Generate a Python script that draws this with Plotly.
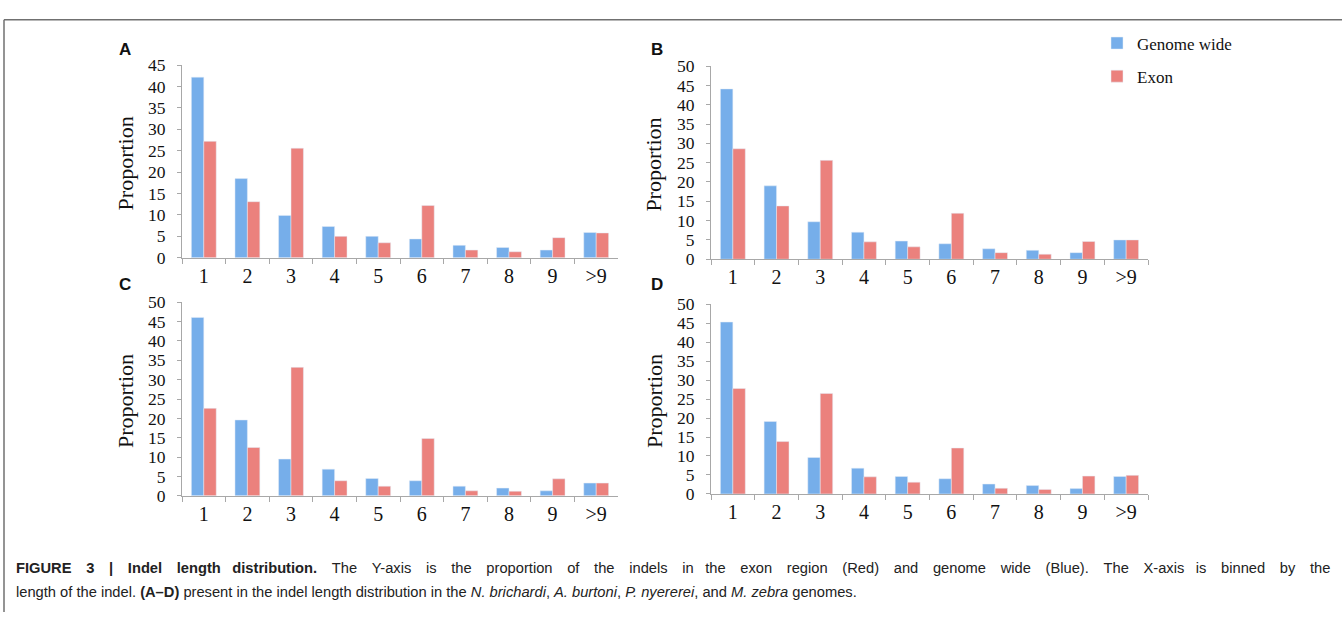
import plotly.graph_objects as go

categories = ["1", "2", "3", "4", "5", "6", "7", "8", "9", ">9"]

a_genome = [42.2, 18.5, 9.9, 7.3, 5.0, 4.4, 2.9, 2.4, 1.8, 5.9]
a_exon = [27.2, 13.1, 25.6, 5.0, 3.5, 12.2, 1.8, 1.4, 4.7, 5.8]
b_genome = [44.1, 19.0, 9.7, 7.0, 4.7, 4.0, 2.7, 2.3, 1.7, 5.0]
b_exon = [28.6, 13.8, 25.6, 4.5, 3.2, 11.9, 1.7, 1.3, 4.6, 5.0]
c_genome = [46.1, 19.6, 9.5, 6.9, 4.5, 3.9, 2.5, 2.0, 1.3, 3.3]
c_exon = [22.6, 12.5, 33.2, 3.9, 2.5, 14.8, 1.3, 1.2, 4.4, 3.3]
d_genome = [45.3, 19.1, 9.6, 6.8, 4.6, 4.0, 2.6, 2.2, 1.4, 4.6]
d_exon = [27.8, 13.8, 26.5, 4.5, 3.1, 12.1, 1.5, 1.2, 4.7, 4.9]

panel_labels = ["A", "B", "C", "D"]
series_names = ["Genome wide", "Exon"]
y_max = [45, 50, 50, 50]

W, H = 1342, 622
BLUE = "#76aeea"
RED = "#eb817d"
SERIF = "Liberation Serif, Times New Roman, serif"
SANS = "Liberation Sans, Arial, Helvetica, sans-serif"

# panel geometry in pixels: (x0, x1, y_zero, y_top)
geom = [
    (182, 618, 256.0, 57.0),
    (711, 1148, 257.5, 58.0),
    (182, 618, 502.0, 302.0),
    (711, 1148, 500.0, 304.0),
]
label_pos = [(125, 41), (657, 41), (125, 284), (657, 284)]

data = [(a_genome, a_exon), (b_genome, b_exon), (c_genome, c_exon), (d_genome, d_exon)]

fig = go.Figure()
layout_axes = {}
annotations = []
for i, ((g, e), (x0, x1, yz, yt)) in enumerate(zip(data, geom)):
    n = i + 1
    xa = "x" if n == 1 else f"x{n}"
    ya = "y" if n == 1 else f"y{n}"
    fig.add_trace(go.Bar(x=categories, y=g, name=series_names[0], marker_color=BLUE,
                         xaxis=xa, yaxis=ya, showlegend=(n == 1), legendgroup="g"))
    fig.add_trace(go.Bar(x=categories, y=e, name=series_names[1], marker_color=RED,
                         xaxis=xa, yaxis=ya, showlegend=(n == 1), legendgroup="e"))
    xk = "xaxis" if n == 1 else f"xaxis{n}"
    yk = "yaxis" if n == 1 else f"yaxis{n}"
    layout_axes[xk] = dict(
        domain=[x0 / W, x1 / W], anchor=ya, type="category",
        showline=True, linecolor="#a8a8a8", linewidth=1.2,
        ticks="outside", tickson="boundaries", ticklen=5, tickcolor="#a8a8a8",
        tickfont=dict(family=SERIF, size=20, color="#111"),
        showgrid=False, zeroline=False, fixedrange=True,
    )
    layout_axes[yk] = dict(
        domain=[1 - yz / H, 1 - yt / H], anchor=xa, range=[0, y_max[i]], dtick=5,
        showline=True, linecolor="#a8a8a8", linewidth=1.2,
        ticks="outside", ticklen=4, tickcolor="#a8a8a8", ticklabelstandoff=8,
        tickfont=dict(family=SERIF, size=17.5, color="#111"),
        showgrid=False, zeroline=False, fixedrange=True,
    )
    annotations.append(dict(
        text="Proportion", textangle=-90, xref="paper", yref="paper",
        x=(x0 - 57) / W, y=1 - ((yz + yt) / 2 + 2) / H, showarrow=False,
        font=dict(family=SERIF, size=22, color="#111"),
        xanchor="center", yanchor="middle",
    ))
    lx, ly = label_pos[i]
    annotations.append(dict(
        text=f"<b>{panel_labels[i]}</b>", xref="paper", yref="paper",
        x=lx / W, y=1 - ly / H, showarrow=False,
        font=dict(family=SANS, size=17, color="#111"),
        xanchor="center", yanchor="middle",
    ))

# first caption line is justified (stretched word spacing) in the reference
EM = "\u2003"
ENN = "\u2002\u00a0"
words1 = ["<b>FIGURE", "3", "|", "Indel", "length", "distribution.</b>", "The", "Y-axis", "is", "the",
          "proportion", "of", "the", "indels", "in", "the", "exon", "region", "(Red)", "and", "genome",
          "wide", "(Blue).", "The", "X-axis", "is", "binned", "by", "the"]
caption1 = words1[0]
for k, w in enumerate(words1[1:]):
    caption1 += (ENN if k % 10 == 4 else EM) + w
caption2 = ("length of the indel. <b>(A–D)</b> present in the indel length distribution in the "
            "<i>N. brichardi</i>, <i>A. burtoni</i>, <i>P. nyererei</i>, and <i>M. zebra</i> genomes.")
for txt, yc in [(caption1, 577), (caption2, 601)]:
    annotations.append(dict(
        text=txt, xref="paper", yref="paper", x=14 / W, y=1 - yc / H,
        showarrow=False, xanchor="left", yanchor="middle", align="left",
        font=dict(family=SANS, size=14.7, color="#222"),
    ))

shapes = [
    dict(type="line", xref="paper", yref="paper", x0=4 / W, x1=1, y0=1 - 10 / H, y1=1 - 10 / H,
         line=dict(color="#707070", width=1.5)),
    dict(type="line", xref="paper", yref="paper", x0=4 / W, x1=4 / W, y0=1 - 10 / H, y1=0,
         line=dict(color="#707070", width=1.5)),
]

fig.update_layout(
    width=W, height=H, margin=dict(l=0, r=0, t=0, b=0),
    paper_bgcolor="white", plot_bgcolor="white",
    barmode="group", bargap=0.43, bargroupgap=0,
    annotations=annotations, shapes=shapes,
    legend=dict(x=1097 / W, y=1 - 16 / H, xanchor="left", yanchor="top",
                font=dict(family=SERIF, size=17, color="#111"),
                bgcolor="rgba(0,0,0,0)", tracegroupgap=8, itemwidth=30),
    **layout_axes,
)

fig.write_html("out.html", config={"displayModeBar": False},
               post_script="document.body.style.margin='0';document.body.style.overflow='hidden';")
